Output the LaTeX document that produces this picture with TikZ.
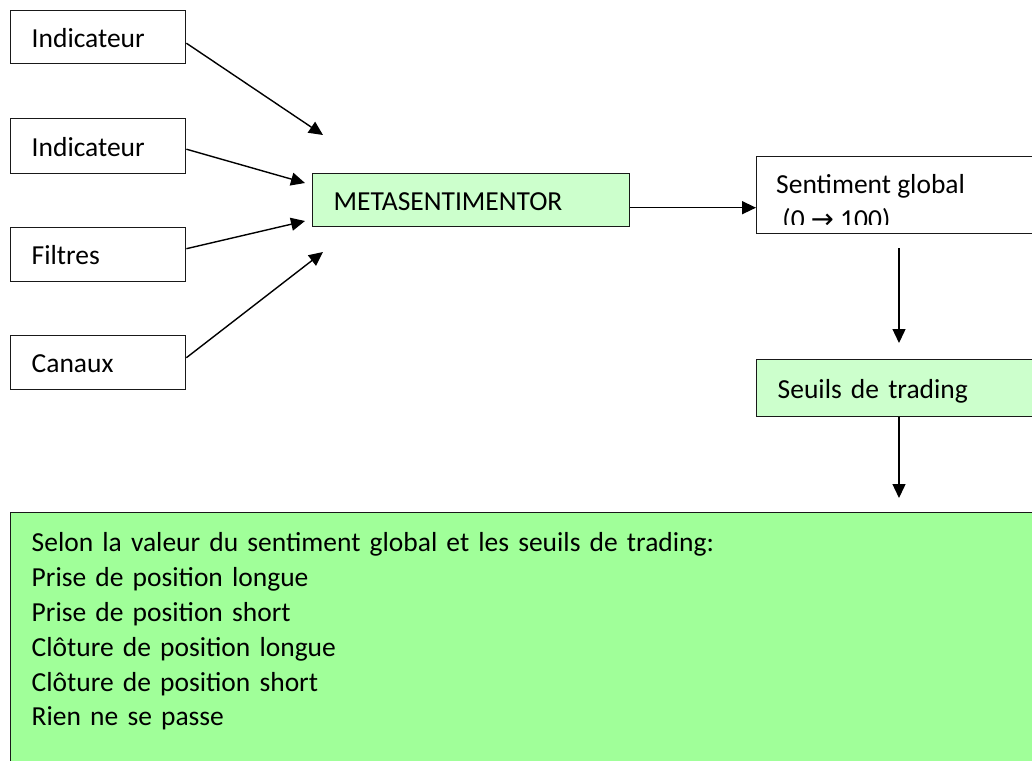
\documentclass[tikz,border=0pt]{standalone}
\usepackage{fontspec}
\setmainfont{Carlito}
\newfontfamily\arrowfont{DejaVu Sans}
\usetikzlibrary{arrows.meta,calc}
\definecolor{paleGreen}{RGB}{204,255,204}
\definecolor{brightGreen}{RGB}{160,255,153}
\tikzset{
  box/.style={rectangle, draw=black!90, line width=1.4pt, anchor=north west,
    inner xsep=21pt, align=left, font=\fontsize{27.5}{34.8}\selectfont},
  onebox/.style={box, text height=26pt, text depth=6pt},
  arr/.style={-{Triangle[length=14pt,width=13pt]}, line width=1.4pt}
}
\begin{document}
\begin{tikzpicture}[x=1pt,y=-1pt]
\useasboundingbox (0,0) rectangle (1032,760);
\clip (0,0) rectangle (1032,760);
% inputs
\node[onebox, text width=133pt, minimum height=53pt] (ind1) at (10,10) {Indicateur};
\node[onebox, text width=133pt, minimum height=55pt] (ind2) at (10,118) {Indicateur};
\node[onebox, text width=133pt, minimum height=54pt] (filt) at (10,227) {Filtres};
\node[onebox, text width=133pt, minimum height=54pt] (can) at (10,335) {Canaux};
% core
\node[onebox, fill=paleGreen, text width=275pt, minimum height=53pt] (ms) at (312,173) {METASENTIMENTOR};
\node[box, text width=300pt, minimum height=77pt] (sent) at (756,156) {};
\begin{scope}
\clip (sent.north west) rectangle (1032,224);
\node[anchor=north west, align=left, inner sep=0pt, font=\fontsize{27.5}{34.8}\selectfont] (senttxt) at (776,174) {Sentiment global\\\ (0 {\arrowfont →} 100)};
\end{scope}
\node[onebox, fill=paleGreen, text width=300pt, minimum height=57pt] (seuil) at (756,359) {Seuils de trading};
% output
\node[box, fill=brightGreen, text width=1100pt, inner ysep=20pt] (big) at (10,512) {Selon la valeur du sentiment global et les seuils de trading:\\Prise de position longue\\Prise de position short\\Cl\^oture de position longue\\Cl\^oture de position short\\Rien ne se passe\\\strut};
% free ends
\coordinate (m1) at (323,135);
\coordinate (m2) at (305,183);
\coordinate (m3) at (305,221);
\coordinate (m4) at (323,252);
\coordinate (colx) at (899,0);
% connectors
\draw[arr] ([yshift=-6pt]ind1.east) -- (m1);
\draw[arr] ([yshift=-3pt]ind2.east) -- (m2);
\draw[arr] ([yshift=6pt]filt.east) -- (m3);
\draw[arr] ([yshift=5pt]can.east) -- (m4);
\draw[arr] ([yshift=-7.5pt]ms.east) -- ([yshift=-7.5pt]ms.east -| sent.west);
\draw[arr, shorten <=14pt, shorten >=16pt] (sent.south -| colx) -- (seuil.north -| colx);
\draw[arr, shorten >=14pt] (seuil.south -| colx) -- (big.north -| colx);
\end{tikzpicture}
\end{document}
